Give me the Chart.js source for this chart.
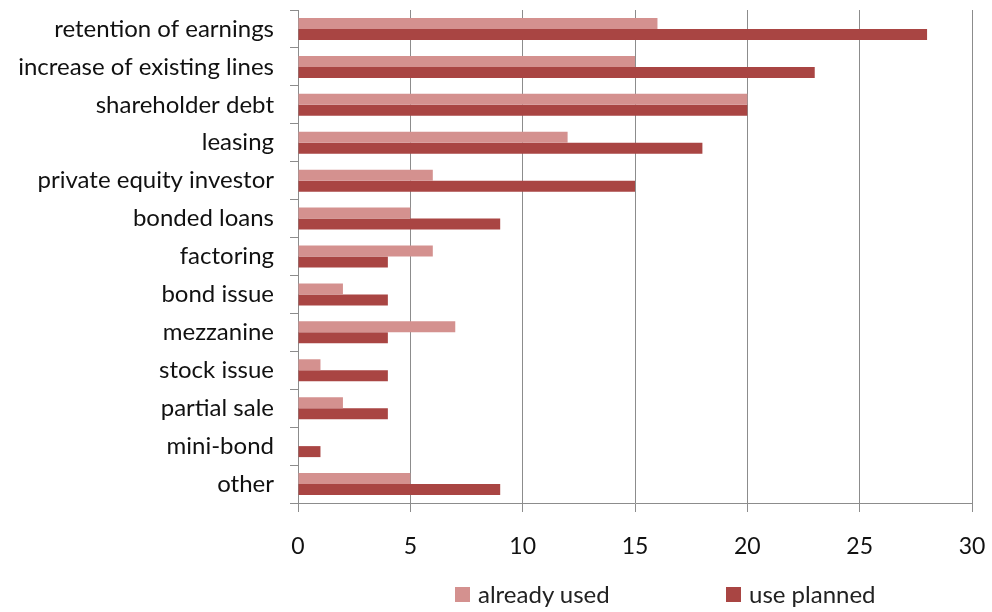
<!DOCTYPE html>
<html>
<head>
<meta charset="utf-8">
<script src="https://cdn.jsdelivr.net/npm/chart.js@4"></script>
<style>
  html, body { margin: 0; padding: 0; background: #fff; }
  #wrap { position: relative; width: 992px; height: 612px; }
  #legend { position: absolute; top: 579px; left: 0; width: 992px; height: 30px;
    font: 24px Lato, sans-serif; color: #222; }
  #legend span.item { position: absolute; top: 0; white-space: nowrap; }
  #legend i { display: inline-block; width: 15px; height: 15px; margin-right: 8px; vertical-align: 1px; }
</style>
</head>
<body>
<div id="wrap">
  <canvas id="chart" width="992" height="612"></canvas>
  <div id="legend"></div>
</div>
<script>
const categories = [
  'retention of earnings', 'increase of existing lines', 'shareholder debt', 'leasing',
  'private equity investor', 'bonded loans', 'factoring', 'bond issue', 'mezzanine',
  'stock issue', 'partial sale', 'mini-bond', 'other'
];
const alreadyUsed = [16, 15, 20, 12, 6, 5, 6, 2, 7, 1, 2, 0, 5];
const usePlanned = [28, 23, 20, 18, 15, 9, 4, 4, 4, 4, 4, 1, 9];
const seriesNames = ['already used', 'use planned'];
const xTicks = [0, 5, 10, 15, 20, 25, 30];

const colors = ['#D4918F', '#A94543'];
const gridColor = '#8c8c8c';

new Chart(document.getElementById('chart'), {
  type: 'bar',
  data: {
    labels: categories,
    datasets: [
      { label: seriesNames[0], data: alreadyUsed, backgroundColor: colors[0] },
      { label: seriesNames[1], data: usePlanned, backgroundColor: colors[1] }
    ]
  },
  options: {
    indexAxis: 'y',
    responsive: false,
    animation: false,
    categoryPercentage: 0.58,
    barPercentage: 1,
    layout: { padding: { top: 10, right: 20, left: 0, bottom: 49 } },
    plugins: { legend: { display: false }, tooltip: { enabled: false } },
    scales: {
      x: {
        min: xTicks[0], max: xTicks[xTicks.length - 1],
        afterBuildTicks: s => { s.ticks = xTicks.map(v => ({ value: v })); },
        afterFit: s => { s.height = 60; s.paddingLeft = 0; s.paddingRight = 0; },
        grid: { color: gridColor, lineWidth: 1, tickLength: 9 },
        border: { color: gridColor },
        ticks: { font: { family: 'Lato, sans-serif', size: 23 }, color: '#111', padding: 21 }
      },
      y: {
        afterFit: s => { s.width = 298; s.paddingTop = 0; s.paddingBottom = 0; },
        grid: { offset: true, drawOnChartArea: false, color: gridColor, tickLength: 8 },
        border: { color: gridColor },
        ticks: { font: { family: 'Lato, sans-serif', size: 24 }, color: '#111', padding: 16 }
      }
    }
  }
});

// legend below the plot
const legend = document.getElementById('legend');
const legendX = [455, 726];
seriesNames.forEach((name, i) => {
  const s = document.createElement('span');
  s.className = 'item';
  s.style.left = legendX[i] + 'px';
  s.innerHTML = `<i style="background:${colors[i]}"></i>${name}`;
  legend.appendChild(s);
});
</script>
</body>
</html>
